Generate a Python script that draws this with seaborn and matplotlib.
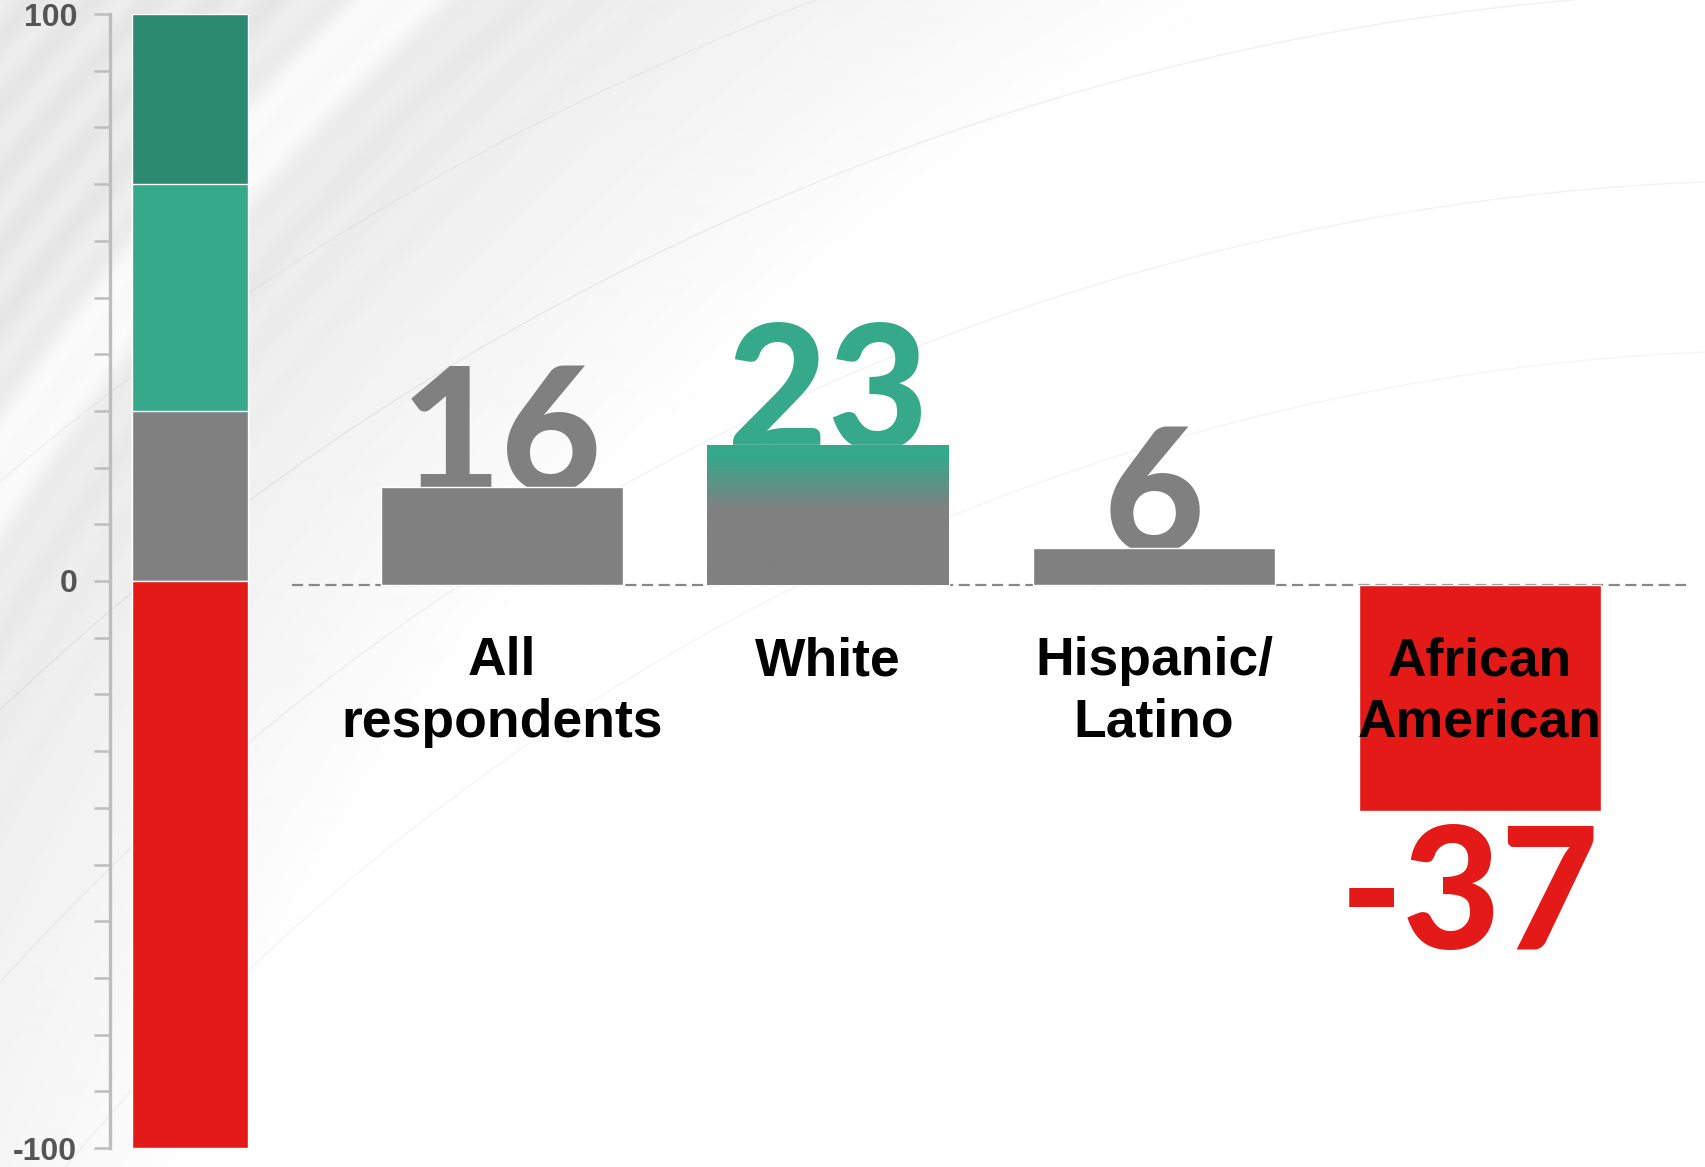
import numpy as np
import pandas as pd
import matplotlib
matplotlib.use("Agg")
import matplotlib.pyplot as plt
import seaborn as sns

# ---------------- data ----------------
categories = ["All\nrespondents", "White", "Hispanic/\nLatino", "African\nAmerican"]
values = [16, 23, 6, -37]
value_labels = ["16", "23", "6", "-37"]

scale_tops = [100, 70, 30, -100]
scale_names = ["strong", "positive", "neutral", "negative"]
scale_major_ticks = [-100, 0, 100]
scale_tick_labels = ["-100", "0", "100"]
scale_minor_ticks = list(range(-100, 101, 10))

# ---------------- style ----------------
DARK_GREEN = "#2B8A6F"
GREEN = "#35A98A"
GRAY = "#808080"
RED = "#E31A17"

sns.set_theme(style="white")
plt.rcParams["font.family"] = ["Liberation Sans", "DejaVu Sans"]

W, H = 1706, 1167
fig = plt.figure(figsize=(W / 100, H / 100), dpi=100)
fig.patch.set_facecolor("white")

# ---------------- decorative background ----------------
bg = fig.add_axes([0, 0, 1, 1])
bg.axis("off")
yy, xx = np.mgrid[0:H:2, 0:W:2]
cx, cy = 2300, 2000
r = np.hypot(xx - cx, yy - cy)
ramp = np.clip((r - 2250) / 450, 0, 1)
img = 1 - 0.085 * ramp + 0.014 * np.sin(r / 7.0) * np.clip((r - 2500) / 300, 0, 1)
img += 0.07 * np.exp(-((r - 2760) / 40) ** 2)
img = np.clip(img, 0, 1)
bg.imshow(img, cmap="gray", vmin=0, vmax=1, extent=[0, W, H, 0], aspect="auto",
          interpolation="bilinear")
acx, acy = 1800, 2600
for rad, a in [(2250, 0.10), (2420, 0.12), (2610, 0.14), (2780, 0.10)]:
    t = np.linspace(np.pi, 1.5 * np.pi, 600)
    bg.plot(acx + rad * np.cos(t), acy + rad * np.sin(t), color="#9a9a9a",
            lw=1, alpha=a)
bg.set_xlim(0, W)
bg.set_ylim(H, 0)

# ---------------- main bars ----------------
ax = fig.add_axes([292 / W, 0, (1686 - 292) / W, 1])
ax.set_facecolor("none")
df = pd.DataFrame({"category": categories, "value": values})
sns.barplot(data=df, x="category", y="value", hue="category",
            palette=[GRAY, GRAY, GRAY, RED], legend=False, width=0.74,
            saturation=1, ax=ax, zorder=3)
ax.set_xlim(-0.644, 3.632)
ax.set_ylim(-95.4, 95.9)
ax.axhline(0, color="#888888", lw=1.6, ls=(0, (5, 2.5)), zorder=2.5)

# gradient on top of the White bar
p = ax.patches[1]
x0, x1 = p.get_x(), p.get_x() + p.get_width()
top = p.get_height()
n = 200
yv = np.linspace(top, 0, n)
g = np.array([0x35, 0xA9, 0x8A]) / 255
gr = np.array([0x80, 0x80, 0x80]) / 255
f = np.clip((top - 2.0 - yv) / 8.5, 0, 1)[:, None]
grad = (g * (1 - f) + gr * f)[:, None, :]
im = ax.imshow(grad, extent=[x0, x1, 0, top], aspect="auto", zorder=3.5,
               interpolation="bilinear")
im.set_clip_path(p)

num_colors = [GRAY, GREEN, GRAY, RED]
for i, (v, lab) in enumerate(zip(values, value_labels)):
    if v >= 0:
        ax.text(i, v - 0.8, lab, ha="center", va="baseline", fontsize=125,
                fontweight="black", family=["Lato", "DejaVu Sans"],
                color=num_colors[i], zorder=2)
    else:
        ax.text(i - 0.03, v - 1.8, lab, ha="center", va="top", fontsize=122,
                fontweight="black", family=["Lato", "DejaVu Sans"],
                color=num_colors[i], zorder=2)

for i, cat in enumerate(categories):
    ax.text(i, -8.4, cat, ha="center", va="top", fontsize=38.5, fontweight="bold",
            linespacing=1.29, color="black", zorder=5)

ax.set_xticks([])
ax.set_yticks([])
ax.set_xlabel("")
ax.set_ylabel("")
for s in ax.spines.values():
    s.set_visible(False)

# ---------------- scale bar ----------------
lax = fig.add_axes([110 / W, 19 / H, 160 / W, 1134 / H])
lax.set_facecolor("none")
sdf = pd.DataFrame({"g": ["scale"] * 4, "top": scale_tops, "seg": scale_names})
sns.barplot(data=sdf, x="g", y="top", hue="seg", hue_order=scale_names,
            palette=[DARK_GREEN, GREEN, GRAY, RED], dodge=False, width=0.72,
            saturation=1, legend=False, ax=lax, zorder=3)
lax.set_xlim(-0.5, 0.5)
lax.set_ylim(-100, 100)
lax.set_xticks([])
lax.set_xlabel("")
lax.set_ylabel("")
lax.set_yticks(scale_major_ticks)
lax.set_yticklabels(scale_tick_labels)
lax.set_yticks(scale_minor_ticks, minor=True)
for s in ["top", "right", "bottom"]:
    lax.spines[s].set_visible(False)
lax.spines["left"].set_color("#bdbdbd")
lax.spines["left"].set_linewidth(2.4)
lax.tick_params(axis="y", which="both", left=True, direction="out", length=11.5,
                width=1.8, color="#bdbdbd")
lax.tick_params(axis="y", which="major", pad=12, labelsize=23, labelcolor="#555555")
for t in lax.get_yticklabels():
    t.set_fontweight("bold")

fig.savefig("out.png", dpi=100)
